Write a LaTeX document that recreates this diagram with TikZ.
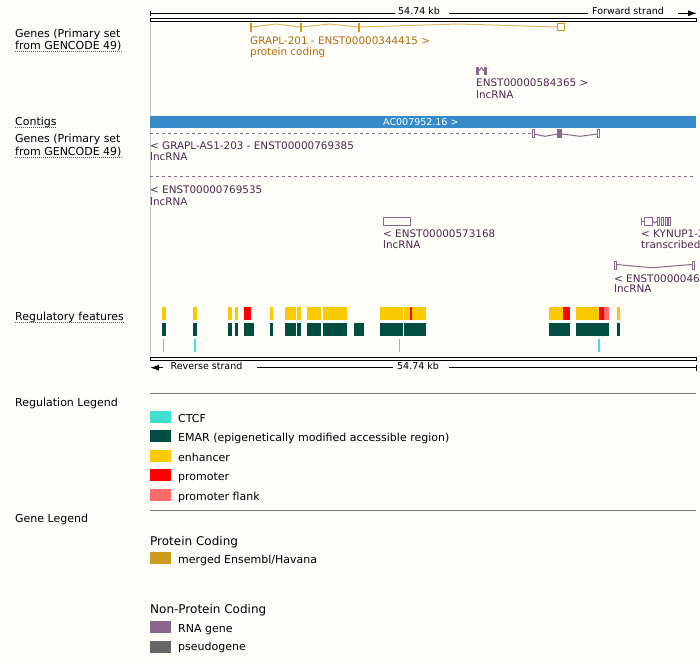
\documentclass[tikz,border=0pt]{standalone}
\usepackage{fontspec}
\setmainfont{DejaVu Sans}
\usetikzlibrary{arrows.meta}

\definecolor{bgcream}{RGB}{255,253,247}
\definecolor{pcgene}{RGB}{205,155,29}
\definecolor{pcintron}{RGB}{220,184,100}
\definecolor{pctext}{RGB}{178,108,14}
\definecolor{rnagene}{RGB}{139,102,139}
\definecolor{rnatext}{RGB}{77,41,77}
\definecolor{contigblue}{RGB}{54,140,200}
\definecolor{ctcfcol}{RGB}{64,224,208}
\definecolor{emarcol}{RGB}{1,78,64}
\definecolor{enhcol}{RGB}{250,202,0}
\definecolor{promcol}{RGB}{255,0,0}
\definecolor{flankcol}{RGB}{255,106,106}
\definecolor{pseudocol}{RGB}{102,102,102}
\definecolor{ulblue}{RGB}{60,90,160}
\definecolor{edgegray}{RGB}{200,200,200}
\definecolor{rulegray}{RGB}{128,128,128}

\tikzset{
  trklab/.style={anchor=base west,inner sep=0pt,font=\fontsize{11}{13}\selectfont},
  genelab/.style={anchor=base west,inner sep=0pt,font=\fontsize{10.4}{12}\selectfont},
  scalelab/.style={anchor=base west,inner sep=0pt,font=\fontsize{9.5}{11}\selectfont},
  headlab/.style={anchor=base west,inner sep=0pt,font=\fontsize{12}{14}\selectfont},
  hintline/.style={ulblue,line width=0.9pt,dash pattern=on 1pt off 1pt},
  strandarrow/.style={line width=1pt,-{Latex[length=9pt,width=6pt]}},
  rnadash/.style={rnagene,line width=1pt,dash pattern=on 3pt off 3pt}
}

\begin{document}
\begin{tikzpicture}[x=1pt,y=-1pt]

\useasboundingbox (0,0) rectangle (700,665);
\clip (0,0) rectangle (700,665);
\fill[bgcream] (0,0) rectangle (700,665);

\draw[edgegray] (150.5,20) -- (150.5,357);

\draw[line width=1pt] (150,11) -- (150,16);
\draw[line width=1pt] (150,13.3) -- (395,13.3);
\node[scalelab] (kbtop) at (398,14.5) {54.74 kb};
\draw[line width=1pt] (449,13.3) -- (588,13.3);
\node[scalelab] (fwd) at (592,14.5) {Forward strand};
\draw[strandarrow] (678,13.3) -- (697,13.3);
\draw[line width=1pt] (150,18.3) rectangle (696,21.3);

\node[trklab] (genesA1) at (15,37.5) {Genes (Primary set};
\node[trklab] (genesA2) at (15,49.5) {from GENCODE 49)};
\draw[hintline] ([yshift=-2pt]genesA2.base west) -- ([yshift=-2pt]genesA2.base east);

\draw[pcintron,line width=1pt] (252,27) -- (276,24) -- (300,27);
\draw[pcintron,line width=1pt] (302,27) -- (330,24) -- (358,27);
\draw[pcintron,line width=1pt] (360,27) -- (458,24) -- (557,27);
\fill[pcgene] (250,23.3) rectangle (252,31.6);
\fill[pcgene] (300,23.3) rectangle (302,31.6);
\fill[pcgene] (358,23.3) rectangle (360,31.6);
\draw[pcgene,line width=1pt] (557,23.8) rectangle (564,30.8);
\node[genelab,pctext] (grapl201) at (250,44) {GRAPL-201 - ENST00000344415 >};
\node[genelab,pctext] (grapl201bio) at (250,55) {protein coding};

\fill[rnagene] (476,66.7) rectangle (478.5,75);
\fill[rnagene] (484.3,66.7) rectangle (486.7,75);
\draw[rnagene,line width=1pt] (478.5,71) -- (481.3,67.7) -- (484.3,71);
\node[genelab,rnatext] (t584365) at (476,86.7) {ENST00000584365 >};
\node[genelab,rnatext] (t584365bio) at (476,98) {lncRNA};

\node[trklab] (contigs) at (15,125.7) {Contigs};
\draw[hintline] ([yshift=-2pt]contigs.base west) -- ([yshift=-2pt]contigs.base east);
\fill[contigblue] (150,116) rectangle (696,127.7);
\node[scalelab,white] (contig) at (383,125.3) {AC007952.16 >};

\node[trklab] (genesB1) at (15,142.7) {Genes (Primary set};
\node[trklab] (genesB2) at (15,155) {from GENCODE 49)};
\draw[hintline] ([yshift=-2pt]genesB2.base west) -- ([yshift=-2pt]genesB2.base east);

\draw[rnadash] (150,133.3) -- (531,133.3);
\draw[rnagene,line width=1pt] (534,134) -- (545,136.3) -- (557.3,134);
\draw[rnagene,line width=1pt] (562,134) -- (580,136.3) -- (597.3,134);
\draw[rnagene,line width=1pt] (532,129.5) rectangle (534.3,137.5);
\fill[rnagene] (557.3,129) rectangle (562,137.7);
\draw[rnagene,line width=1pt] (597.5,129.5) rectangle (599.8,137.5);
\node[genelab,rnatext] (graplas1) at (150,149.3) {< GRAPL-AS1-203 - ENST00000769385};
\node[genelab,rnatext] (graplas1bio) at (150,160.3) {lncRNA};

\draw[rnadash] (150,176.7) -- (696,176.7);
\node[genelab,rnatext] (t769535) at (150,193.3) {< ENST00000769535};
\node[genelab,rnatext] (t769535bio) at (150,205) {lncRNA};

\draw[rnagene,line width=1pt] (383.5,217.5) rectangle (410,225);
\node[genelab,rnatext] (t573168) at (383,237.7) {< ENST00000573168};
\node[genelab,rnatext] (t573168bio) at (383,248.3) {lncRNA};

\draw[rnagene,line width=1pt] (641.5,217.5) -- (641.5,225);
\draw[rnagene,line width=1pt] (641.5,221) -- (644,221);
\draw[rnagene,line width=1pt] (644,217.5) rectangle (652.3,225);
\draw[rnagene,line width=1pt] (652.3,221) -- (654.7,223) -- (657.3,221);
\draw[rnagene,line width=1pt] (657.5,217.5) rectangle (659.8,225);
\draw[rnagene,line width=1pt] (661,217.5) rectangle (663.8,225);
\draw[rnagene,line width=1pt] (665.5,217.5) rectangle (667.2,225);
\draw[rnagene,line width=1pt] (668.2,217.5) rectangle (670,225);
\node[genelab,rnatext] (kynup1) at (641,237.7) {< KYNUP1-2};
\node[genelab,rnatext] (kynup1bio) at (641,248.3) {transcribed};

\draw[rnagene,line width=1pt] (616.3,264.5) -- (652,267.7) -- (692,264.5);
\draw[rnagene,line width=1pt] (614.5,261.5) rectangle (616.3,269);
\draw[rnagene,line width=1pt] (692,261.5) rectangle (694,269);
\node[genelab,rnatext] (t046) at (614,282) {< ENST0000046};
\node[genelab,rnatext] (t046bio) at (614,292.7) {lncRNA};

\node[trklab] (regfeat) at (15,320) {Regulatory features};
\draw[hintline] ([yshift=-2pt]regfeat.base west) -- ([yshift=-2pt]regfeat.base east);
\foreach \a/\b in {162/166,193/197,228/232,235/238,270/273,285/296,297/301,307/321,323/347,380/403,404/426,549/563,576/599.3,617/620}
  \fill[enhcol] (\a,307) rectangle (\b,320);
\foreach \a/\b in {244/251,410/412,563/570,599.3/604}
  \fill[promcol] (\a,307) rectangle (\b,320);
\fill[flankcol] (604,307) rectangle (609,320);
\foreach \a/\b in {162/166,193/197,228/232,235/238,244/254,270/273,285/296,297/301,307/321,323/347,354/364,380/403,404/426,549/570,576/609,617/620}
  \fill[emarcol] (\a,322.7) rectangle (\b,336);
\foreach \a/\b in {162.5/163.5,194/196,398.5/399.5,598.3/600}
  \fill[ctcfcol] (\a,339) rectangle (\b,351.7);

\draw[line width=1pt] (150,357) rectangle (696,360.3);
\draw[strandarrow] (163,367.7) -- (150,367.7);
\node[scalelab] (rev) at (170.5,369) {Reverse strand};
\draw[line width=1pt] (257,367.7) -- (393,367.7);
\node[scalelab] (kbbot) at (397,369) {54.74 kb};
\draw[line width=1pt] (449,367.7) -- (696,367.7);
\draw[line width=1pt] (696,365) -- (696,371);

\draw[rulegray] (150,393.3) -- (696,393.3);
\node[trklab] (reglegend) at (15,406) {Regulation Legend};
\fill[ctcfcol] (150,411) rectangle (171,422.7);
\node[trklab] (lgctcf) at (178,422.3) {CTCF};
\fill[emarcol] (150,430) rectangle (171,442.3);
\node[trklab] (lgemar) at (178,441.7) {EMAR (epigenetically modified accessible region)};
\fill[enhcol] (150,450) rectangle (171,461.7);
\node[trklab] (lgenh) at (178,461) {enhancer};
\fill[promcol] (150,469) rectangle (171,481);
\node[trklab] (lgprom) at (178,480) {promoter};
\fill[flankcol] (150,489) rectangle (171,500.7);
\node[trklab] (lgflank) at (178,500) {promoter flank};
\draw[rulegray] (150,510) -- (696,510);

\node[trklab] (genelegend) at (15,522.7) {Gene Legend};
\node[headlab] (pchead) at (150,545) {Protein Coding};
\fill[pcgene] (150,552) rectangle (171,563.7);
\node[trklab] (lgmerged) at (178,563.3) {merged Ensembl/Havana};
\node[headlab] (npchead) at (150,613.3) {Non-Protein Coding};
\fill[rnagene] (150,621) rectangle (171,632.7);
\node[trklab] (lgrna) at (178,632.5) {RNA gene};
\fill[pseudocol] (150,641) rectangle (171,652.7);
\node[trklab] (lgpseudo) at (178,650) {pseudogene};

\end{tikzpicture}
\end{document}
